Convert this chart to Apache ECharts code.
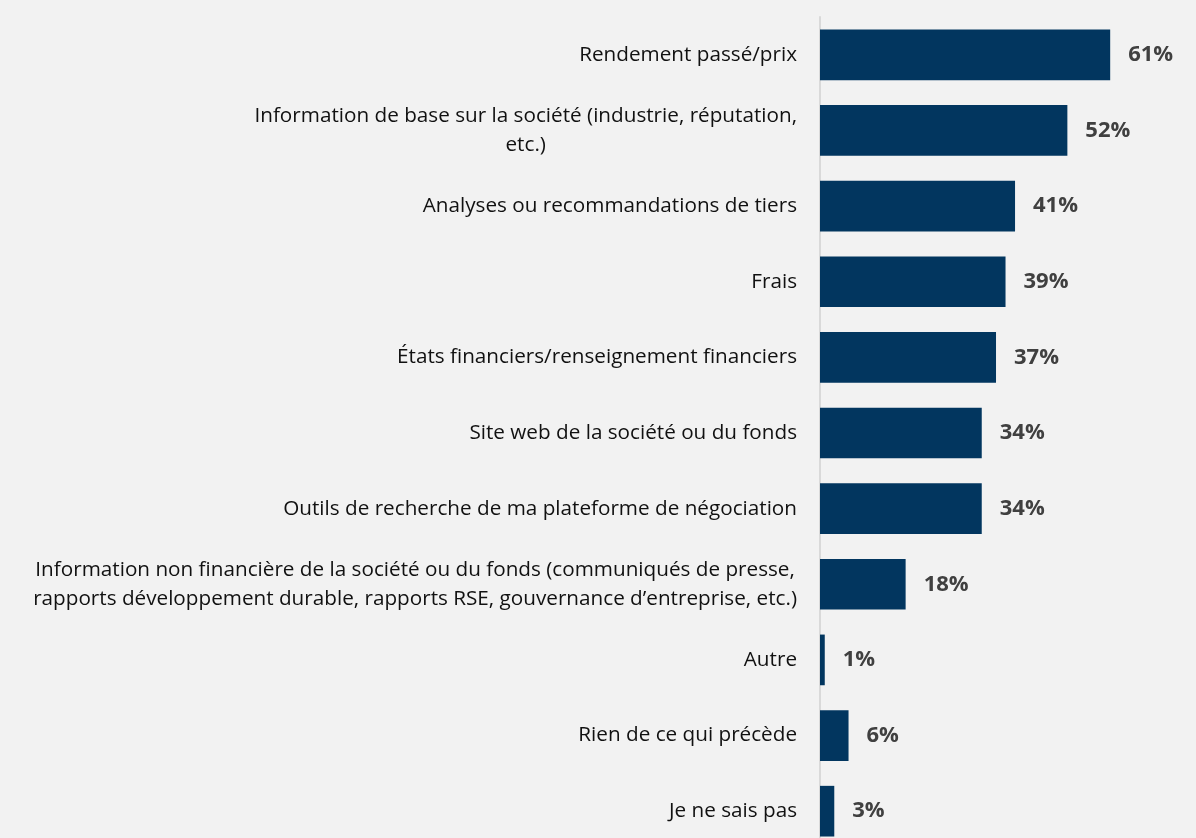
<!DOCTYPE html>
<html>
<head>
<meta charset="utf-8">
<script src="https://cdn.jsdelivr.net/npm/echarts@6/dist/echarts.min.js"></script>
<style>
  html, body { margin: 0; padding: 0; background: #f2f2f2; }
  #chart { width: 1196px; height: 838px; }
</style>
</head>
<body>
<div id="chart"></div>
<script>
const categories = [
  'Rendement passé/prix',
  'Information de base sur la société (industrie, réputation,\netc.)',
  'Analyses ou recommandations de tiers',
  'Frais',
  'États financiers/renseignement financiers',
  'Site web de la société ou du fonds',
  'Outils de recherche de ma plateforme de négociation',
  'Information non financière de la société ou du fonds (communiqués de presse,\nrapports développement durable, rapports RSE, gouvernance d’entreprise, etc.)',
  'Autre',
  'Rien de ce qui précède',
  'Je ne sais pas'
];
const values = [61, 52, 41, 39, 37, 34, 34, 18, 1, 6, 3];

const chart = echarts.init(document.getElementById('chart'));

const option = {
  backgroundColor: '#f2f2f2',
  animation: false,
  grid: {
    left: 820,
    top: 17,
    width: 333,
    height: 832,
    outerBoundsMode: 'none'
  },
  xAxis: {
    type: 'value',
    min: 0,
    max: 70,
    show: false
  },
  yAxis: {
    type: 'category',
    data: categories,
    inverse: true,
    axisTick: { show: false },
    axisLine: { show: true, lineStyle: { color: '#d9d9d9', width: 2 } },
    axisLabel: {
      margin: 23,
      formatter: (v) => v.split('\n').map(l => '{c|' + l + '}').join('\n'),
      rich: {
        c: {
          align: 'center',
          fontFamily: 'Open Sans',
          fontSize: 20.7,
          lineHeight: 29,
          color: '#111111'
        }
      }
    }
  },
  series: [
    {
      type: 'bar',
      data: values,
      barCategoryGap: '33%',
      itemStyle: { color: '#02365f' },
      label: {
        show: true,
        position: 'right',
        distance: 18,
        formatter: '{c}%',
        fontFamily: 'Open Sans',
        fontWeight: 'bold',
        fontSize: 22,
        color: '#404040'
      }
    }
  ]
};

chart.setOption(option);
</script>
</body>
</html>
